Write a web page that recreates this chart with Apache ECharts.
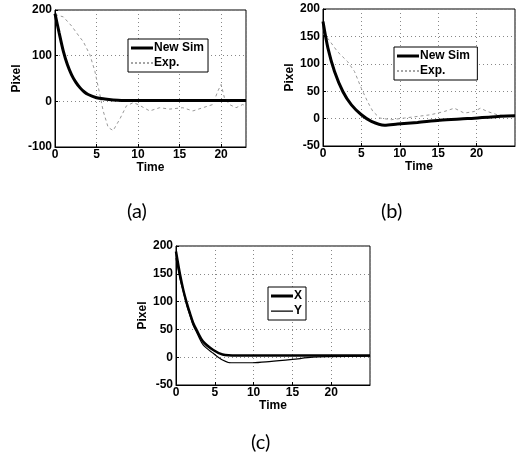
<!DOCTYPE html>
<html><head><meta charset="utf-8">
<script src="https://cdn.jsdelivr.net/npm/echarts@6/dist/echarts.min.js"></script>
<style>html,body{margin:0;padding:0;background:#fff}#c{width:518px;height:463px}</style>
</head><body><div id="c"></div>
<script>
// Panel (a)
const aSimT = [0,0.5,1,1.5,2,2.5,3,3.5,4,5,6,7,8,10,15,20,23];
const aSimV = [192,150,110,80,58,42,30,21,15,8,5,3,2,2,2,2,2];
const aExpT = [0,1,2,3,3.4,4.2,4.8,5.4,5.8,6.4,7,7.8,8.6,9.4,10,11.4,12.6,13.8,15.4,16.6,17.8,19,19.6,20,20.4,21,21.8,22.6,23];
const aExpV = [190,185,165,140,131,102,66,15,-21,-57,-64,-39,-10,-3,-7,-21,-14,-17,-14,-21,-14,-7,22,37,8,-7,-14,-7,-10];
// Panel (b)
const bSimT = [0,0.65,1.5,2.6,3.7,5,6.3,8,9.7,12.3,15.2,18.8,21.9,25];
const bSimV = [177,128,86,49,25,7,-5,-12,-10,-7,-3,0,3,5];
const bExpT = [0,0.65,1.9,3.2,4.1,5,5.8,6.5,7.4,8.9,10.6,12.3,14,15.8,17.1,18.4,19.7,20.5,21.4,22.7,24.4,25];
const bExpV = [155,146,122,104,86,55,31,13,1,-2,1,4,7,13,19,10,13,19,13,7,4,3];
// Panel (c)
const cXT = [0,0.5,0.94,1.4,1.8,2.2,2.65,3.5,4.8,6,7.8,10,15,20,25];
const cXV = [190,150,121,97,79,62,49,28,13,5,3,3,3,3,3];
const cYT = [0,0.5,1,1.4,1.8,2.2,2.65,3.5,4.8,6,7.1,9.9,12,15,17.6,19.7,25];
const cYV = [178,142,115,92,75,58,45,22,7,-5,-10,-10,-8,-4,0,1,2];

const labels = ['(a)','(b)','(c)'];
const xName = 'Time', yName = 'Pixel';

function pairs(t,v){return t.map((x,i)=>[x,v[i]]);}

const font = 'Liberation Sans, Arial, sans-serif';
const grids = [
  {left:55, top:10, width:191, height:137},
  {left:323, top:9, width:192, height:137},
  {left:176, top:246, width:194, height:139}
];
const yMin=[-100,-50,-50], yMax=[200,200,200], yInt=[100,50,50], xMax=[23,25,25];

// legend icon shapes (22 x 3 box)
const corners = 'M0,0h0.01v0.01h-0.01z M21.99,2.99h0.01v0.01h-0.01z ';
const iconThick = 'path://M0,0h22v3h-22z';
const iconThin = 'path://' + corners + 'M0,1h22v1.2h-22z';
let dash = '';
for (let x = 0; x < 22; x += 4) dash += 'M' + x + ',0.7h2v1.6h-2z ';
const iconDash = 'path://' + corners + dash;

function legendCfg(left, top, items){
  return {left:left, top:top, orient:'vertical', data:items, itemWidth:22, itemHeight:3, itemGap:3,
    padding:[3,4,3,3], backgroundColor:'#fff', borderColor:'#000', borderWidth:1,
    textStyle:{fontFamily:font,fontSize:12,fontWeight:'bold',color:'#000',padding:[0,0,0,-4]}, selectedMode:false};
}

const option = {
  backgroundColor:'#fff',
  animation:false,
  grid: grids.map(g=>Object.assign({show:true,borderColor:'#000',borderWidth:1,backgroundColor:'transparent'},g)),
  xAxis: grids.map((g,i)=>({
    type:'value', gridIndex:i, min:0, max:xMax[i], interval:5,
    name:xName, nameLocation:'middle', nameGap:14,
    nameTextStyle:{fontFamily:font,fontSize:12,fontWeight:'bold',color:'#000'},
    axisLine:{show:true,onZero:false,lineStyle:{color:'#000',width:1}},
    axisTick:{show:true,inside:true,length:3,lineStyle:{color:'#000'}},
    axisLabel:{fontFamily:font,fontSize:12,fontWeight:'bold',color:'#000',margin:2,showMaxLabel:false},
    splitLine:{show:true,lineStyle:{color:'#888',type:[1,3],width:1}}
  })),
  yAxis: grids.map((g,i)=>({
    type:'value', gridIndex:i, min:yMin[i], max:yMax[i], interval:yInt[i],
    name:yName, nameLocation:'middle', nameGap:i===0?32:25, nameRotate:90,
    nameTextStyle:{fontFamily:font,fontSize:12,fontWeight:'bold',color:'#000'},
    axisLine:{show:true,lineStyle:{color:'#000',width:1}},
    axisTick:{show:true,inside:true,length:3,lineStyle:{color:'#000'}},
    axisLabel:{fontFamily:font,fontSize:12,fontWeight:'bold',color:'#000',margin:3},
    splitLine:{show:true,lineStyle:{color:'#888',type:[1,3],width:1}}
  })),
  legend: [
    legendCfg(128, 39, [{name:'New Sim',icon:iconThick},{name:'Exp.',icon:iconDash,itemStyle:{color:'#888'}}]),
    legendCfg(394, 47, [{name:'New Sim ',icon:iconThick},{name:'Exp. ',icon:iconDash,itemStyle:{color:'#888'}}]),
    legendCfg(268, 287, [{name:'X',icon:iconThick},{name:'Y',icon:iconThin}])
  ],
  graphic: [
    {type:'text', left:127, top:202, style:{text:labels[0], font:'20px Lato, "Open Sans", sans-serif', fill:'#000'}},
    {type:'text', left:381, top:202, style:{text:labels[1], font:'20px Lato, "Open Sans", sans-serif', fill:'#000'}},
    {type:'text', left:251, top:433, style:{text:labels[2], font:'20px Lato, "Open Sans", sans-serif', fill:'#000'}}
  ],
  series: [
    {name:'Exp.', type:'line', xAxisIndex:0, yAxisIndex:0, data:pairs(aExpT,aExpV), symbol:'none', lineStyle:{color:'#999',width:1,type:[3,3]}, itemStyle:{color:'#999'}},
    {name:'New Sim', type:'line', xAxisIndex:0, yAxisIndex:0, data:pairs(aSimT,aSimV), symbol:'none', smooth:0.3, lineStyle:{color:'#000',width:3}, itemStyle:{color:'#000'}},
    {name:'Exp. ', type:'line', xAxisIndex:1, yAxisIndex:1, data:pairs(bExpT,bExpV), symbol:'none', lineStyle:{color:'#999',width:1,type:[3,3]}, itemStyle:{color:'#999'}},
    {name:'New Sim ', type:'line', xAxisIndex:1, yAxisIndex:1, data:pairs(bSimT,bSimV), symbol:'none', smooth:0.3, lineStyle:{color:'#000',width:3}, itemStyle:{color:'#000'}},
    {name:'X', type:'line', xAxisIndex:2, yAxisIndex:2, data:pairs(cXT,cXV), symbol:'none', smooth:0.3, lineStyle:{color:'#000',width:2.5}, itemStyle:{color:'#000'}},
    {name:'Y', type:'line', xAxisIndex:2, yAxisIndex:2, data:pairs(cYT,cYV), symbol:'none', smooth:0.3, lineStyle:{color:'#000',width:1.2}, itemStyle:{color:'#000'}}
  ]
};
echarts.init(document.getElementById('c')).setOption(option);
</script></body></html>
